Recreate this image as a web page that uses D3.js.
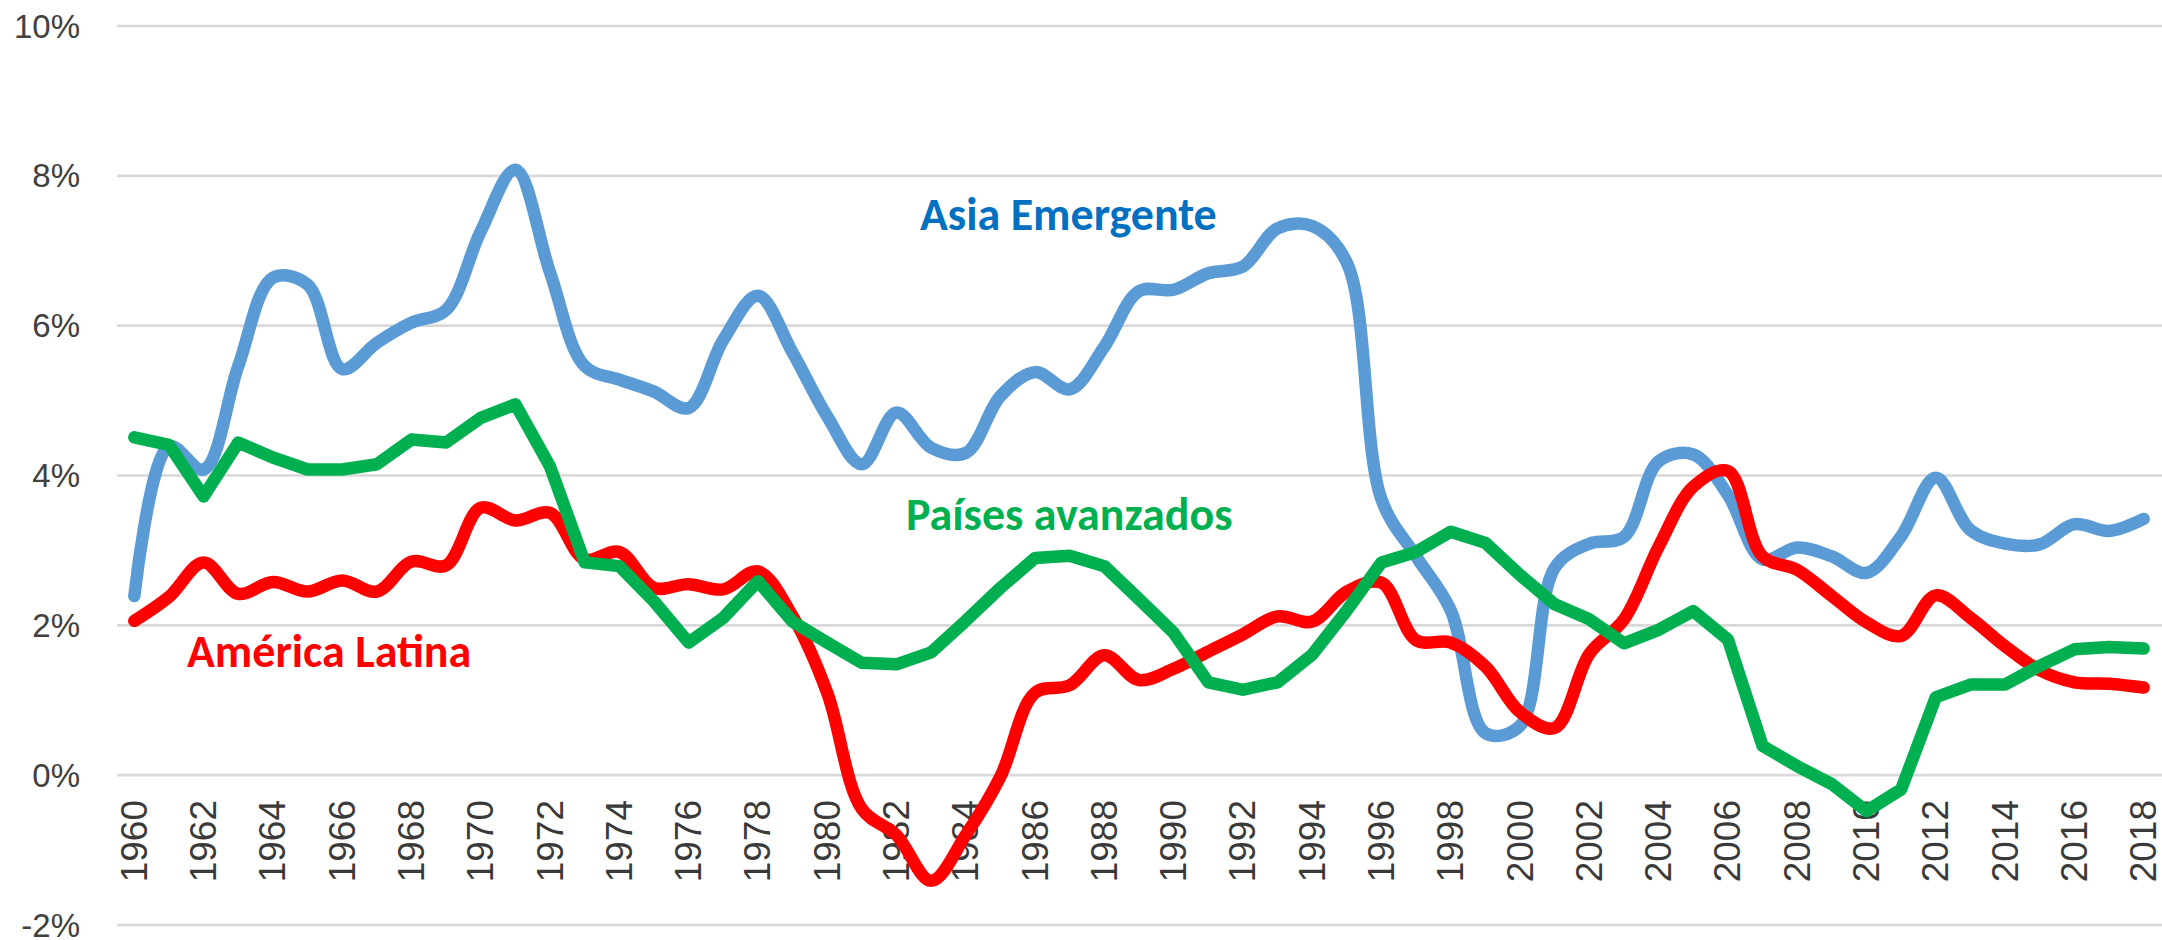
<!DOCTYPE html>
<html>
<head>
<meta charset="utf-8">
<script src="https://cdn.jsdelivr.net/npm/d3@7"></script>
<style>
	body { margin: 0; background: #fff; }
	.grid line { stroke: #d9d9d9; stroke-width: 2.6; }
	.ylab { font-family: "Liberation Sans", Arial, sans-serif; font-size: 33px; fill: #404040; }
	.xlab { font-family: "Liberation Sans Narrow", "Arial Narrow", "Liberation Sans", sans-serif; font-size: 37px; fill: #3a3a3a; }
	.serie { fill: none; stroke-width: 12.5; stroke-linecap: round; stroke-linejoin: round; }
	.name { font-family: Carlito, Calibri, Lato, sans-serif; font-weight: bold; font-size: 46px; }
</style>
</head>
<body>
<svg id="chart" width="2162" height="940"></svg>
<script>
//
// data (% real growth), read off the picture
//

var years = [1960, 1961, 1962, 1963, 1964, 1965, 1966, 1967, 1968, 1969,
	1970, 1971, 1972, 1973, 1974, 1975, 1976, 1977, 1978, 1979,
	1980, 1981, 1982, 1983, 1984, 1985, 1986, 1987, 1988, 1989,
	1990, 1991, 1992, 1993, 1994, 1995, 1996, 1997, 1998, 1999,
	2000, 2001, 2002, 2003, 2004, 2005, 2006, 2007, 2008, 2009,
	2010, 2011, 2012, 2013, 2014, 2015, 2016, 2017, 2018];

var asiaEmergente = [2.39, 4.39, 4.08, 5.46, 6.64, 6.55, 5.42, 5.77, 6.04, 6.21,
	7.26, 8.08, 6.71, 5.46, 5.28, 5.12, 4.9, 5.81, 6.4, 5.64,
	4.79, 4.15, 4.84, 4.37, 4.3, 5.06, 5.38, 5.15, 5.72, 6.46,
	6.48, 6.7, 6.79, 7.3, 7.33, 6.84, 3.68, 2.92, 2.2, 0.56,
	0.66, 2.77, 3.09, 3.18, 4.19, 4.28, 3.74, 2.88, 3.04, 2.92,
	2.7, 3.19, 3.97, 3.27, 3.09, 3.08, 3.35, 3.26, 3.42];

var americaLatina = [2.06, 2.38, 2.84, 2.42, 2.58, 2.45, 2.6, 2.45, 2.85, 2.8,
	3.57, 3.4, 3.5, 2.88, 2.98, 2.5, 2.55, 2.48, 2.72, 2.12,
	1.1, -0.45, -0.8, -1.41, -0.8, -0.02, 1.1, 1.2, 1.6, 1.27,
	1.42, 1.65, 1.88, 2.12, 2.05, 2.45, 2.57, 1.8, 1.77, 1.45,
	0.84, 0.63, 1.62, 2.08, 3.05, 3.85, 4.06, 2.92, 2.74, 2.39,
	2.04, 1.86, 2.4, 2.1, 1.72, 1.4, 1.24, 1.22, 1.17];

var paisesAvanzados = [4.51, 4.41, 3.72, 4.44, 4.24, 4.08, 4.08, 4.15, 4.48, 4.44,
	4.77, 4.95, 4.12, 2.84, 2.79, 2.32, 1.77, 2.1, 2.59, 2.05,
	1.77, 1.5, 1.48, 1.64, 2.06, 2.5, 2.9, 2.93, 2.79, 2.35,
	1.9, 1.24, 1.14, 1.24, 1.61, 2.2, 2.84, 2.98, 3.25, 3.1,
	2.67, 2.28, 2.08, 1.76, 1.94, 2.19, 1.81, 0.39, 0.12, -0.12,
	-0.48, -0.19, 1.04, 1.21, 1.21, 1.46, 1.68, 1.71, 1.69];

var yTicks = [-2, 0, 2, 4, 6, 8, 10];
var xTickYears = years.filter(function(y) { return y % 2 == 0; });

//
//
//

var svg = d3.select("#chart");

var x = d3.scalePoint()
	.domain(years)
	.range([117, 2161])
	.padding(0.5);

var y = d3.scaleLinear()
	.domain([-2, 10])
	.range([925, 26]);

// horizontal gridlines
svg.append("g")
	.attr("class", "grid")
	.selectAll("line")
	.data(yTicks)
	.enter()
	.append("line")
		.attr("x1", 117)
		.attr("x2", 2162)
		.attr("y1", d => y(d))
		.attr("y2", d => y(d));

// y axis labels
svg.append("g")
	.selectAll("text")
	.data(yTicks)
	.enter()
	.append("text")
		.attr("class", "ylab")
		.attr("text-anchor", "end")
		.attr("dominant-baseline", "central")
		.attr("x", 80)
		.attr("y", d => y(d))
		.text(d => d + "%");

// year labels, rotated
svg.append("g")
	.selectAll("text")
	.data(xTickYears)
	.enter()
	.append("text")
		.attr("class", "xlab")
		.attr("text-anchor", "end")
		.attr("dominant-baseline", "central")
		.attr("transform", d => "translate(" + x(d) + ",800) rotate(-90)")
		.text(d => d);

function draw_series(values, colour, curve)
{
	var line = d3.line()
		.x((d, i) => x(years[i]))
		.y(d => y(d))
		.curve(curve);

	svg.append("path")
		.datum(values)
		.attr("class", "serie")
		.attr("stroke", colour)
		.attr("d", line);
}

// blue and red are smoothed like excel, green is straight
draw_series(asiaEmergente, "#5b9bd5", d3.curveCatmullRom.alpha(0.5));
draw_series(americaLatina, "#ff0000", d3.curveCatmullRom.alpha(0.5));
draw_series(paisesAvanzados, "#00b050", d3.curveLinear);

// series names
var names = [
	{ t: "Asia Emergente", c: "#0070c0", x: 920, y: 230 },
	{ t: "Países avanzados", c: "#00b050", x: 906, y: 530 },
	{ t: "América Latina", c: "#ff0000", x: 187, y: 667 }
];

svg.append("g")
	.selectAll("text")
	.data(names)
	.enter()
	.append("text")
		.attr("class", "name")
		.attr("x", d => d.x)
		.attr("y", d => d.y)
		.attr("fill", d => d.c)
		.text(d => d.t);
</script>
</body>
</html>
